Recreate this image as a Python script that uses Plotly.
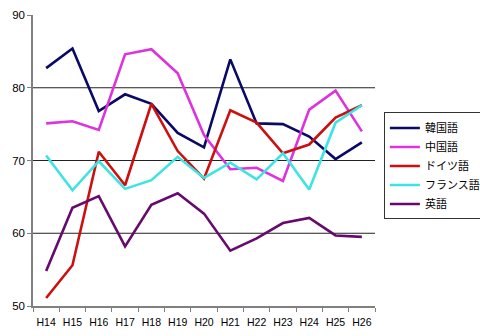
import plotly.graph_objects as go

years = ["H14", "H15", "H16", "H17", "H18", "H19", "H20",
         "H21", "H22", "H23", "H24", "H25", "H26"]

korean = [82.7, 85.4, 76.8, 79.1, 77.8, 73.8, 71.8, 83.9, 75.1, 75.0, 73.3, 70.2, 72.5]
chinese = [75.1, 75.4, 74.2, 84.6, 85.3, 82.0, 73.5, 68.8, 69.0, 67.2, 77.0, 79.6, 74.0]
german = [51.1, 55.6, 71.2, 66.6, 77.8, 71.3, 67.5, 76.9, 75.2, 71.0, 72.2, 75.9, 77.6]
french = [70.7, 65.9, 69.9, 66.1, 67.3, 70.5, 67.6, 69.7, 67.4, 71.0, 66.0, 75.2, 77.6]
english = [54.8, 63.5, 65.1, 58.2, 63.9, 65.5, 62.7, 57.6, 59.3, 61.4, 62.1, 59.7, 59.5]

series = [
    ("韓国語", korean, "#0a0a66"),
    ("中国語", chinese, "#dd33dd"),
    ("ドイツ語", german, "#cc0f0f"),
    ("フランス語", french, "#3ee3e3"),
    ("英語", english, "#660a6e"),
]

grid_values = [60, 70, 80]

fig = go.Figure()
for name, vals, color in series:
    fig.add_trace(go.Scatter(
        x=years, y=vals, name=name, mode="lines",
        line=dict(color=color, width=2.6),
    ))

for g in grid_values:
    fig.add_shape(type="line", xref="paper", yref="y", x0=0, x1=1, y0=g, y1=g,
                  line=dict(color="#222222", width=1), layer="below")

fig.update_layout(
    width=480, height=336,
    margin=dict(l=33, r=105, t=15, b=30, autoexpand=False),
    paper_bgcolor="white", plot_bgcolor="white",
    font=dict(family="Liberation Sans, Arial, sans-serif", size=11, color="black"),
    showlegend=True,
    legend=dict(
        x=1.026, y=0.665, xanchor="left", yanchor="top",
        bgcolor="white", bordercolor="#333333", borderwidth=1,
        font=dict(family="Noto Sans CJK JP, sans-serif", size=11, color="black"),
        tracegroupgap=0, itemwidth=30,
    ),
    xaxis=dict(
        type="category", range=[-0.5, 12.5],
        showline=True, linecolor="#808080", linewidth=1.5,
        ticks="outside", tickson="boundaries", ticklen=4, tickcolor="#808080",
        showgrid=False, zeroline=False, tickangle=0,
        ticklabelstandoff=6,
        tickfont=dict(size=10.5),
    ),
    yaxis=dict(
        range=[50, 90], tickvals=[50, 60, 70, 80, 90],
        showline=True, linecolor="#808080", linewidth=1.5,
        ticks="outside", ticklen=4, tickcolor="#808080",
        showgrid=False, zeroline=False,
        tickfont=dict(size=11.5),
    ),
)

fig.write_html("out.html")
